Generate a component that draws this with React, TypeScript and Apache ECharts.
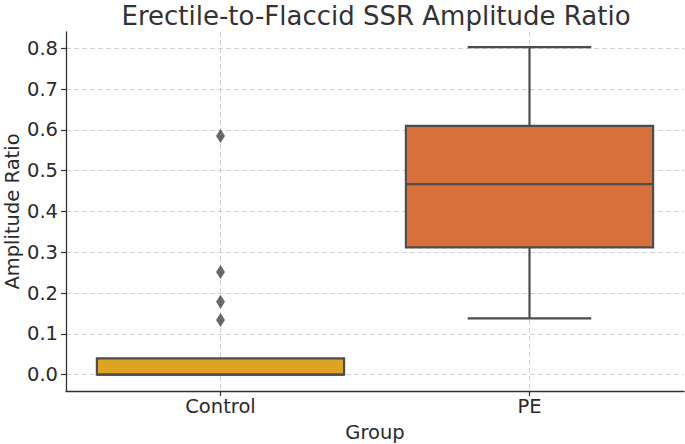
import React, { useEffect, useRef } from 'react';
import * as echarts from 'echarts';

const categories = ['Control', 'PE'];
const whiskerLow = [0, 0.138];
const quartile1 = [0, 0.312];
const medians = [0, 0.467];
const quartile3 = [0.04, 0.61];
const whiskerHigh = [0.04, 0.803];
const boxColors = ['#DFA324', '#D8703C'];
const outlierGroup = 'Control';
const outlierValues = [0.585, 0.252, 0.179, 0.134];
const yTicks = [0, 0.1, 0.2, 0.3, 0.4, 0.5, 0.6, 0.7, 0.8];

export default function App() {
  const ref = useRef<HTMLDivElement>(null);
  useEffect(() => {
    const chart = echarts.init(ref.current!, null, { renderer: 'svg' });
    const edge = '#4d4d4d';
    const font = 'DejaVu Sans';
    const textColor = '#2b2b2b';
    const boxData = categories.map((c, i) => [
      i, whiskerLow[i], quartile1[i], medians[i], quartile3[i], whiskerHigh[i],
    ]);
    const gIdx = categories.indexOf(outlierGroup);
    const outlierData = outlierValues.map((v) => [gIdx, v]);
    chart.setOption({
      animation: false,
      title: {
        text: 'Erectile-to-Flaccid SSR Amplitude Ratio',
        left: 376,
        textAlign: 'center',
        top: 1,
        padding: 0,
        textStyle: { fontFamily: font, fontSize: 26, lineHeight: 30, fontWeight: 'normal', color: '#333' },
      },
      grid: { left: 66, right: 1, top: 32, bottom: 53, containLabel: false, outerBoundsMode: 'none' },
      xAxis: {
        type: 'value',
        min: -0.5,
        max: 1.5,
        name: 'Group',
        nameLocation: 'middle',
        nameGap: 31,
        nameMoveOverlap: false,
        nameTextStyle: { fontFamily: font, fontSize: 19.5, color: textColor },
        axisLine: { show: true, onZero: false, lineStyle: { color: '#333', width: 1.3 } },
        axisTick: { show: true, length: 5, customValues: [0, 1], lineStyle: { color: '#333', width: 1.2 } },
        axisLabel: {
          customValues: [0, 1],
          formatter: (v: number) => categories[Math.round(v)] ?? '',
          fontFamily: font,
          fontSize: 19.5,
          color: textColor,
          margin: 5,
        },
        splitLine: { show: true, lineStyle: { color: '#cccccc', type: [5, 3], width: 0.9 } },
      },
      yAxis: {
        type: 'value',
        min: -0.04,
        max: 0.84,
        name: 'Amplitude Ratio',
        nameLocation: 'middle',
        nameGap: 44,
        nameMoveOverlap: false,
        nameTextStyle: { fontFamily: font, fontSize: 19.5, color: textColor },
        axisLine: { show: true, onZero: false, lineStyle: { color: '#333', width: 1.3 } },
        axisTick: { show: true, length: 5, customValues: yTicks, lineStyle: { color: '#333', width: 1.2 } },
        axisLabel: {
          customValues: yTicks,
          formatter: (v: number) => v.toFixed(1),
          fontFamily: font,
          fontSize: 19.5,
          color: textColor,
          margin: 8,
        },
        splitLine: { show: true, lineStyle: { color: '#cccccc', type: [5, 3], width: 0.9 } },
      },
      series: [
        {
          type: 'custom',
          z: 3,
          encode: { x: 0, y: [1, 2, 3, 4, 5] },
          data: boxData,
          renderItem: (params: any, api: any) => {
            const i = api.value(0);
            const lo = api.coord([i, api.value(1)]);
            const q1 = api.coord([i, api.value(2)]);
            const med = api.coord([i, api.value(3)]);
            const q3 = api.coord([i, api.value(4)]);
            const hi = api.coord([i, api.value(5)]);
            const band = api.size([1, 0])[0];
            const half = band * 0.4;
            const capHalf = half / 2;
            const x = lo[0];
            const ls = { stroke: edge, lineWidth: 2.2, fill: null };
            const children: any[] = [
              { type: 'line', shape: { x1: x, y1: hi[1], x2: x, y2: q3[1] }, style: ls },
              { type: 'line', shape: { x1: x, y1: lo[1], x2: x, y2: q1[1] }, style: ls },
            ];
            if (hi[1] < q3[1] - 0.5) {
              children.push({ type: 'line', shape: { x1: x - capHalf, y1: hi[1], x2: x + capHalf, y2: hi[1] }, style: ls });
            }
            if (lo[1] > q1[1] + 0.5) {
              children.push({ type: 'line', shape: { x1: x - capHalf, y1: lo[1], x2: x + capHalf, y2: lo[1] }, style: ls });
            }
            children.push(
              {
                type: 'rect',
                shape: { x: x - half, y: q3[1], width: 2 * half, height: q1[1] - q3[1] },
                style: { fill: boxColors[i], stroke: edge, lineWidth: 2.2 },
              },
              { type: 'line', shape: { x1: x - half, y1: med[1], x2: x + half, y2: med[1] }, style: ls },
            );
            return { type: 'group', children };
          },
        },
        {
          type: 'scatter',
          z: 4,
          symbol: 'diamond',
          symbolSize: [9, 14],
          itemStyle: { color: '#444444' },
          data: outlierData,
        },
      ],
    });
    return () => chart.dispose();
  }, []);
  return (
    <div
      ref={ref}
      style={{ position: 'absolute', left: 0, top: 0, width: 685, height: 444 }}
    />
  );
}
